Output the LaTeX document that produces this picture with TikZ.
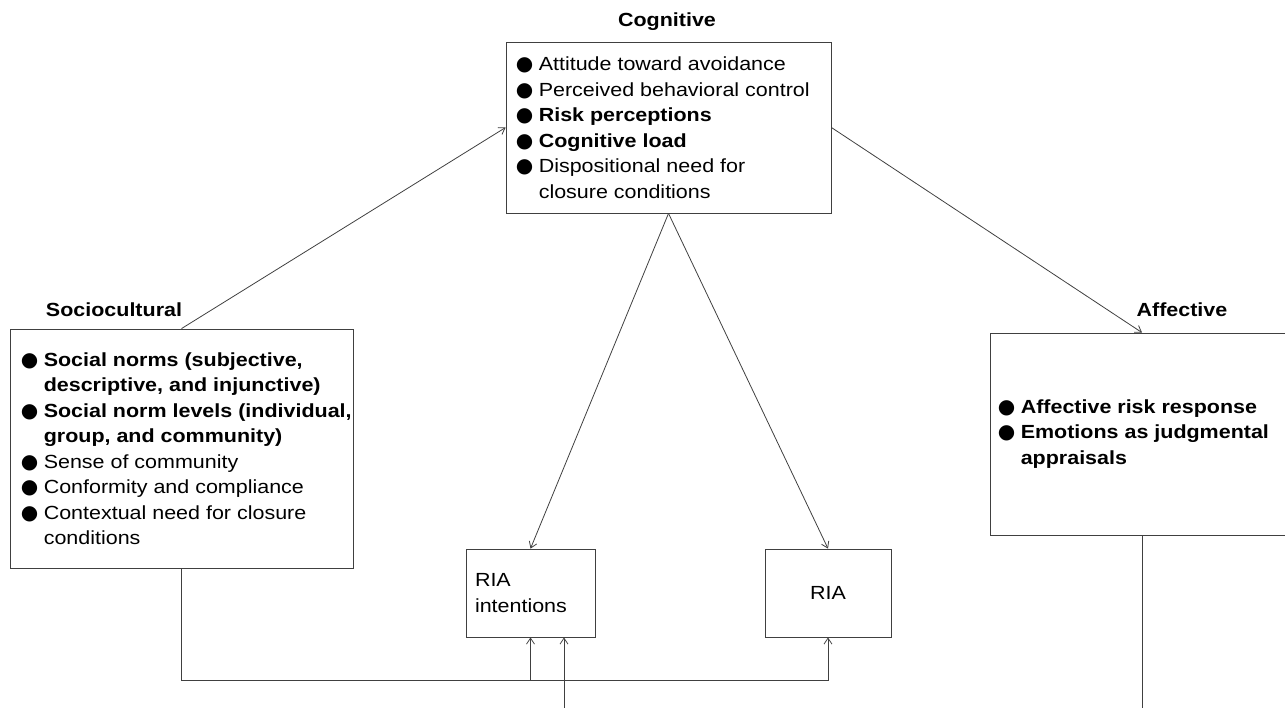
\documentclass[tikz,border=0pt]{standalone}
\usepackage{fontspec}
\setmainfont[FakeStretch=1.13]{Liberation Sans}
\newfontfamily\dotfont{DejaVu Sans}
\usetikzlibrary{arrows.meta,positioning,calc}

\newlength{\bulletwd}
\setlength{\bulletwd}{23pt}
\newcommand{\ditem}{\makebox[\bulletwd][l]{\raisebox{0pt}{\fontsize{20}{20}\dotfont ●}}}
\newcommand{\dcont}{\hspace*{\bulletwd}}

\begin{document}
\begin{tikzpicture}[
    x=1pt, y=-1pt,
    box/.style={rectangle, draw=black!75, line width=0.8pt, font=\fontsize{19}{25.5}\selectfont, align=left},
    list/.style={anchor=west, inner sep=0pt, font=\fontsize{19}{25.5}\selectfont, align=left},
    head/.style={anchor=base, inner sep=0pt, font=\fontsize{19}{23}\selectfont\bfseries},
    arrow/.style={-{Straight Barb[length=6pt,width=8pt]}, line width=0.8pt, black!75},
    link/.style={line width=0.8pt, black!75}
]
    \useasboundingbox (0,0) rectangle (1285,708);

    % Cognitive (top center)
    \node[box, minimum width=325pt, minimum height=171pt] (cog) at (668.5,127.5) {};
    \node[list, right=10pt of cog.west] (cogitems) {\ditem Attitude toward avoidance\\
        \ditem Perceived behavioral control\\
        \ditem \textbf{Risk perceptions}\\
        \ditem \textbf{Cognitive load}\\
        \ditem Dispositional need for\\
        \dcont closure conditions};
    \node[head] (coglab) at (667,27) {Cognitive};

    % Sociocultural (left)
    \node[box, minimum width=343pt, minimum height=239pt] (soc) at (181.5,448.5) {};
    \node[list, right=11pt of soc.west] (socitems) {\ditem \textbf{Social norms (subjective,}\\
        \dcont \textbf{descriptive, and injunctive)}\\
        \ditem \textbf{Social norm levels (individual,}\\
        \dcont \textbf{group, and community)}\\
        \ditem Sense of community\\
        \ditem Conformity and compliance\\
        \ditem Contextual need for closure\\
        \dcont conditions};
    \node[head] (soclab) at (114,317) {Sociocultural};

    % Affective (right, cut by the edge)
    \node[box, minimum width=304pt, minimum height=202pt] (aff) at (1142,434) {};
    \node[list, right=8pt of aff.west] (affitems) {\ditem \textbf{Affective risk response}\\
        \ditem \textbf{Emotions as judgmental}\\
        \dcont \textbf{appraisals}};
    \node[head] (afflab) at (1182,317) {Affective};

    % Outcomes (bottom center)
    \node[box, text width=111pt, inner xsep=9pt, minimum height=88pt] (intent) at (530.5,593) {RIA\\intentions};
    \node[box, minimum width=126pt, minimum height=88pt] (ria) at (828,593) {RIA};

    % Arrows from the sources
    \draw[arrow] (soc.north) -- (cog.west);
    \draw[arrow] (cog.east) -- (aff.north);
    \draw[arrow] (cog.south) -- (intent.north);
    \draw[arrow] (cog.south) -- (ria.north);

    % Bottom rail
    \coordinate (rail) at ([yshift=-43pt]ria.south);
    \coordinate (feed) at (564,708);
    \draw[arrow] (soc.south) |- (rail) -- (ria.south);
    \draw[arrow] (intent.south |- rail) -- (intent.south);
    \draw[arrow] (feed) -- (feed |- intent.south);
    \draw[link] (aff.south) -- (aff.south |- feed);

\end{tikzpicture}
\end{document}
